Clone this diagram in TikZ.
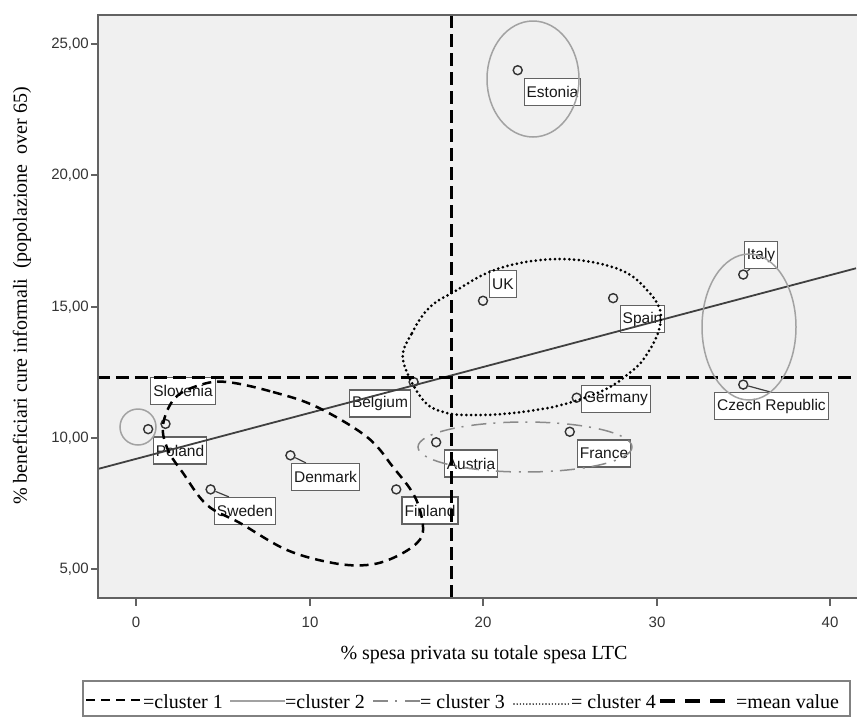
\documentclass[tikz,border=0pt]{standalone}
\usepackage{fontspec}
\setmainfont{Liberation Serif}
\newfontfamily\spssfont{Liberation Sans}
\usepackage{tikz}
\usetikzlibrary{positioning}
\definecolor{plotbg}{HTML}{F0F0F0}
\definecolor{framegray}{HTML}{626262}
\definecolor{clustergray}{HTML}{A2A2A2}
\definecolor{fitgray}{HTML}{404040}
\tikzstyle{Country}=[draw=framegray, fill=white, line width=1.2pt, inner xsep=2.5pt, minimum height=27pt, font=\spssfont\fontsize{15.5}{15.5}\selectfont, text=black!90]
\tikzstyle{CountryPoint}=[circle, draw=black!80, line width=1.4pt, inner sep=0pt, minimum size=9pt]
\tikzstyle{Leader}=[line width=1.2pt, draw=black!75]
\tikzstyle{Cluster1}=[line width=2.5pt, dash pattern=on 9pt off 6pt]
\tikzstyle{Cluster2}=[line width=1.5pt, draw=clustergray]
\tikzstyle{Cluster3}=[line width=1.5pt, draw=clustergray!85!black, dash pattern=on 15pt off 7pt on 2pt off 8pt]
\tikzstyle{Cluster4}=[line width=3pt, dash pattern=on 0pt off 4.8pt, line cap=round]
\tikzstyle{Mean}=[line width=3pt, dash pattern=on 13pt off 6pt]
\tikzstyle{Fit}=[line width=1.8pt, draw=fitgray]
\tikzstyle{Tick}=[font=\spssfont\fontsize{15}{15}\selectfont, text=black!80]
\tikzstyle{Title}=[font=\fontsize{20}{20}\selectfont]

\begin{document}
\begin{tikzpicture}[x=1pt, y=-1pt]
	\useasboundingbox (0,0) rectangle (857,718);
	\fill [plotbg] (98,15) rectangle (857,598);

	% country labels
	\node [style=Country] (estonia label) at (552.5,92) {Estonia};
	\node [style=Country] (italy label) at (761,255) {Italy};
	\node [style=Country] (uk label) at (503,284) {UK};
	\node [style=Country] (spain label) at (642.5,319) {Spain};
	\node [style=Country] (germany label) at (616,399) {Germany};
	\node [style=Country] (czech label) at (771.5,406) {Czech Republic};
	\node [style=Country] (belgium label) at (380,403.5) {Belgium};
	\node [style=Country] (slovenia label) at (183,391) {Slovenia};
	\node [style=Country] (poland label) at (180,450.5) {Poland};
	\node [style=Country] (denmark label) at (325.5,477) {Denmark};
	\node [style=Country] (sweden label) at (245,511) {Sweden};
	\node [style=Country] (finland label) at (430,510.5) {Finland};
	\node [style=Country] (austria label) at (471,463.5) {Austria};
	\node [style=Country] (france label) at (604,453.5) {France};

	\begin{scope}
		\clip (98,15) rectangle (857,598);
		% data coordinates
		\begin{scope}[shift={(136,699)}, x=17.35pt, y=26.2pt]
			\node [style=CountryPoint] (estonia) at (22,24) {};
			\node [style=CountryPoint] (italy) at (35,16.2) {};
			\node [style=CountryPoint] (czech) at (35,12) {};
			\node [style=CountryPoint] (uk) at (20,15.2) {};
			\node [style=CountryPoint] (spain) at (27.5,15.3) {};
			\node [style=CountryPoint] (belgium) at (16,12.1) {};
			\node [style=CountryPoint] (germany) at (25.4,11.5) {};
			\node [style=CountryPoint] (france) at (25,10.2) {};
			\node [style=CountryPoint] (austria) at (17.3,9.8) {};
			\node [style=CountryPoint] (finland) at (15,8) {};
			\node [style=CountryPoint] (denmark) at (8.9,9.3) {};
			\node [style=CountryPoint] (sweden) at (4.3,8) {};
			\node [style=CountryPoint] (slovenia) at (1.7,10.5) {};
			\node [style=CountryPoint] (poland) at (0.7,10.3) {};

			\draw [style=Fit] (-2.25,8.77) -- (41.5,16.44);
			\draw [style=Mean] (18.21,26.1) -- (18.21,3.85);
			\draw [style=Mean] (-2.25,12.29) -- (41.5,12.29);
		\end{scope}

		\draw [style=Leader] (sweden) -- ([xshift=15pt]sweden label.north west);
		\draw [style=Leader] (denmark) -- ([xshift=15pt]denmark label.north west);
		\draw [style=Leader] (czech) -- ([xshift=56pt]czech label.north west);
		\draw [style=Leader] (italy) -- ([xshift=6pt]italy label.south west);

		% clusters
		\draw [style=Cluster1] plot [smooth cycle, tension=0.6] coordinates {(227,382) (273,392) (317,407) (367,437) (393,467) (415,497) (423,527) (417,543) (393,558) (367,565) (333,563) (287,550) (240,523) (207,505) (183,473) (168,450) (163,425) (175,398) (200,385)};
		\draw [style=Cluster2] (138,427) circle [radius=18];
		\draw [style=Cluster2] (533,79) ellipse [x radius=46, y radius=58];
		\draw [style=Cluster2] (749,327) ellipse [x radius=47, y radius=73];
		\draw [style=Cluster3] (525,447) ellipse [x radius=107, y radius=25];
		\draw [style=Cluster4] plot [smooth cycle, tension=0.6] coordinates {(403,360) (412,333) (430,307) (457,290) (487,273) (520,263) (560,259) (597,263) (627,273) (647,290) (660,310) (658,333) (643,360) (627,375) (610,387) (587,397) (553,407) (513,413) (480,415) (447,413) (423,400)};
	\end{scope}

	% axes
	\draw [framegray, line width=2.2pt] (857,15) -- (98,15) -- (98,598) -- (857,598);
	\foreach \yv/\ypx in {5/569, 10/438, 15/307, 20/175, 25/44} {
		\draw [framegray, line width=1.5pt] (91,\ypx) -- (98,\ypx);
		\node [style=Tick, anchor=east, inner sep=0pt] (ytick \yv) at (89,\ypx) {\yv,00};
	}
	\foreach \xv/\xpx in {0/136, 10/310, 20/483, 30/657, 40/830} {
		\draw [framegray, line width=1.5pt] (\xpx,598) -- (\xpx,606);
		\node [style=Tick, inner sep=0pt] (xtick \xv) at (\xpx,622) {\xv};
	}
	\node [style=Title, anchor=base] (xtitle) at (484,659) {\% spesa privata su totale spesa LTC};
	\node [style=Title, rotate=90] (ytitle) at (22,296) {\% beneficiari cure informali\ \ (popolazione\ \ over 65)};

	% legend
	\draw [framegray!80, line width=1.5pt] (83,681) rectangle (850,716);
	\draw [style=Cluster1, line width=2.2pt] (86,700) -- (143,700);
	\draw [style=Cluster2] (230,701) -- (285,701);
	\draw [style=Cluster3] (373,701) -- (420,701);
	\draw [line width=1.6pt, dash pattern=on 0pt off 3.2pt, line cap=round] (514,704) -- (570,704);
	\draw [line width=3.5pt, dash pattern=on 15pt off 10pt] (660,701) -- (725,701);
	\node [style=Title, anchor=base west, inner sep=0pt] (legend c1) at (143,708) {=cluster 1};
	\node [style=Title, anchor=base west, inner sep=0pt] (legend c2) at (285,708) {=cluster 2};
	\node [style=Title, anchor=base west, inner sep=0pt] (legend c3) at (420,708) {= cluster 3};
	\node [style=Title, anchor=base west, inner sep=0pt] (legend c4) at (571,708) {= cluster 4};
	\node [style=Title, anchor=base west, inner sep=0pt] (legend mean) at (736,708) {=mean value};
\end{tikzpicture}
\end{document}
